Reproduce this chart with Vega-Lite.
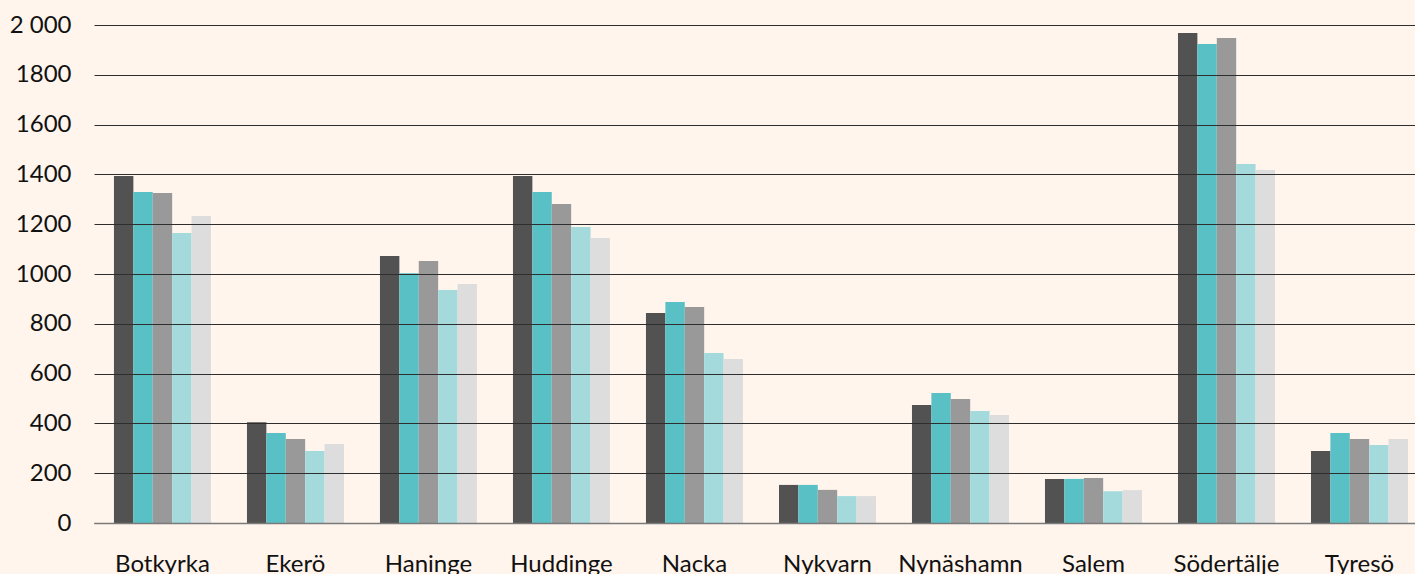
{
  "$schema": "https://vega.github.io/schema/vega-lite/v6.json",
  "width": 1321,
  "height": 498,
  "autosize": {"type": "none"},
  "padding": {"left": 94, "top": 25, "right": 0, "bottom": 51},
  "background": "#fff5ec",
  "config": {
    "view": {"stroke": null},
    "font": "Lato",
    "axis": {"labelFont": "Lato", "labelColor": "#111111"}
  },
  "data": {
    "values": [
      {"kommun": "Botkyrka", "serie": "2018", "antal": 1394},
      {"kommun": "Botkyrka", "serie": "2019", "antal": 1329},
      {"kommun": "Botkyrka", "serie": "2020", "antal": 1325},
      {"kommun": "Botkyrka", "serie": "2021", "antal": 1165},
      {"kommun": "Botkyrka", "serie": "2022", "antal": 1233},
      {"kommun": "Ekerö", "serie": "2018", "antal": 405},
      {"kommun": "Ekerö", "serie": "2019", "antal": 361},
      {"kommun": "Ekerö", "serie": "2020", "antal": 337},
      {"kommun": "Ekerö", "serie": "2021", "antal": 289},
      {"kommun": "Ekerö", "serie": "2022", "antal": 317},
      {"kommun": "Haninge", "serie": "2018", "antal": 1072},
      {"kommun": "Haninge", "serie": "2019", "antal": 1003},
      {"kommun": "Haninge", "serie": "2020", "antal": 1052},
      {"kommun": "Haninge", "serie": "2021", "antal": 936},
      {"kommun": "Haninge", "serie": "2022", "antal": 960},
      {"kommun": "Huddinge", "serie": "2018", "antal": 1394},
      {"kommun": "Huddinge", "serie": "2019", "antal": 1329},
      {"kommun": "Huddinge", "serie": "2020", "antal": 1281},
      {"kommun": "Huddinge", "serie": "2021", "antal": 1189},
      {"kommun": "Huddinge", "serie": "2022", "antal": 1145},
      {"kommun": "Nacka", "serie": "2018", "antal": 843},
      {"kommun": "Nacka", "serie": "2019", "antal": 888},
      {"kommun": "Nacka", "serie": "2020", "antal": 867},
      {"kommun": "Nacka", "serie": "2021", "antal": 683},
      {"kommun": "Nacka", "serie": "2022", "antal": 659},
      {"kommun": "Nykvarn", "serie": "2018", "antal": 153},
      {"kommun": "Nykvarn", "serie": "2019", "antal": 153},
      {"kommun": "Nykvarn", "serie": "2020", "antal": 133},
      {"kommun": "Nykvarn", "serie": "2021", "antal": 108},
      {"kommun": "Nykvarn", "serie": "2022", "antal": 108},
      {"kommun": "Nynäshamn", "serie": "2018", "antal": 474},
      {"kommun": "Nynäshamn", "serie": "2019", "antal": 522},
      {"kommun": "Nynäshamn", "serie": "2020", "antal": 498},
      {"kommun": "Nynäshamn", "serie": "2021", "antal": 450},
      {"kommun": "Nynäshamn", "serie": "2022", "antal": 434},
      {"kommun": "Salem", "serie": "2018", "antal": 177},
      {"kommun": "Salem", "serie": "2019", "antal": 177},
      {"kommun": "Salem", "serie": "2020", "antal": 181},
      {"kommun": "Salem", "serie": "2021", "antal": 128},
      {"kommun": "Salem", "serie": "2022", "antal": 132},
      {"kommun": "Södertälje", "serie": "2018", "antal": 1968},
      {"kommun": "Södertälje", "serie": "2019", "antal": 1924},
      {"kommun": "Södertälje", "serie": "2020", "antal": 1948},
      {"kommun": "Södertälje", "serie": "2021", "antal": 1442},
      {"kommun": "Södertälje", "serie": "2022", "antal": 1418},
      {"kommun": "Tyresö", "serie": "2018", "antal": 289},
      {"kommun": "Tyresö", "serie": "2019", "antal": 361},
      {"kommun": "Tyresö", "serie": "2020", "antal": 337},
      {"kommun": "Tyresö", "serie": "2021", "antal": 313},
      {"kommun": "Tyresö", "serie": "2022", "antal": 337}
    ]
  },
  "mark": {"type": "bar"},
  "encoding": {
    "x": {
      "field": "kommun",
      "type": "nominal",
      "sort": null,
      "scale": {"paddingInner": 0.2707, "paddingOuter": 0.1014, "align": 0.74},
      "axis": {
        "title": null,
        "labelAngle": 0,
        "labelFontSize": 24,
        "labelPadding": 29,
        "ticks": false,
        "domain": true,
        "domainColor": "#7a7a7a",
        "domainWidth": 1.5,
        "zindex": 1
      }
    },
    "xOffset": {
      "field": "serie",
      "type": "nominal",
      "scale": {"paddingInner": 0, "paddingOuter": 0}
    },
    "y": {
      "field": "antal",
      "type": "quantitative",
      "scale": {"domain": [0, 2000], "nice": false},
      "axis": {
        "title": null,
        "values": [0, 200, 400, 600, 800, 1000, 1200, 1400, 1600, 1800, 2000],
        "labelExpr": "datum.value == 2000 ? '2 000' : '' + datum.value",
        "labelFontSize": 24,
        "labelPadding": 23,
        "ticks": false,
        "domain": false,
        "grid": true,
        "gridColor": "#2e2e2e",
        "gridWidth": 1,
        "zindex": 1
      }
    },
    "color": {
      "field": "serie",
      "type": "nominal",
      "legend": null,
      "scale": {
        "domain": ["2018", "2019", "2020", "2021", "2022"],
        "range": ["#525252", "#59c0c6", "#999999", "#a5dadd", "#dddddd"]
      }
    }
  }
}
